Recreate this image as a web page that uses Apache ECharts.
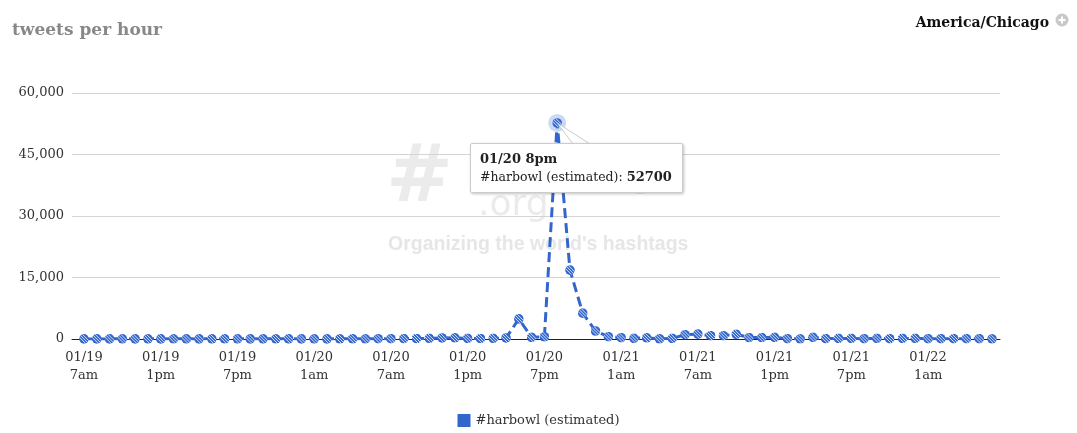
<!DOCTYPE html>
<html>
<head>
<meta charset="utf-8">
<script src="https://cdn.jsdelivr.net/npm/echarts@6/dist/echarts.min.js"></script>
<style>
html,body{margin:0;padding:0;background:#fff;}
#chart{width:1077px;height:433px;}
</style>
</head>
<body>
<div id="chart"></div>
<script>
// ---- data ----
var hourLabels = [
  "01/19 7am","01/19 8am","01/19 9am","01/19 10am","01/19 11am","01/19 12pm","01/19 1pm","01/19 2pm","01/19 3pm","01/19 4pm","01/19 5pm","01/19 6pm","01/19 7pm","01/19 8pm","01/19 9pm","01/19 10pm","01/19 11pm",
  "01/20 12am","01/20 1am","01/20 2am","01/20 3am","01/20 4am","01/20 5am","01/20 6am","01/20 7am","01/20 8am","01/20 9am","01/20 10am","01/20 11am","01/20 12pm","01/20 1pm","01/20 2pm","01/20 3pm","01/20 4pm","01/20 5pm","01/20 6pm","01/20 7pm","01/20 8pm","01/20 9pm","01/20 10pm","01/20 11pm",
  "01/21 12am","01/21 1am","01/21 2am","01/21 3am","01/21 4am","01/21 5am","01/21 6am","01/21 7am","01/21 8am","01/21 9am","01/21 10am","01/21 11am","01/21 12pm","01/21 1pm","01/21 2pm","01/21 3pm","01/21 4pm","01/21 5pm","01/21 6pm","01/21 7pm","01/21 8pm","01/21 9pm","01/21 10pm","01/21 11pm",
  "01/22 12am","01/22 1am","01/22 2am","01/22 3am","01/22 4am","01/22 5am","01/22 6am"
];
var harbowlValues = [
  30, 20, 30, 40, 30, 40, 30, 50, 40, 30, 40, 50, 40, 30, 40, 50, 40,
  30, 40, 30, 50, 60, 50, 70, 80, 100, 120, 150, 250, 300, 150, 120, 150, 250, 4900, 400, 550, 52700, 16800, 6300, 1950,
  560, 320, 160, 300, 60, 150, 1050, 1200, 800, 800, 1150, 350, 350, 400, 80, 50, 400, 100, 150, 150, 80, 150, 80, 150,
  150, 80, 80, 80, 80, 80, 50
];
var tickIndices = [0, 6, 12, 18, 24, 30, 36, 42, 48, 54, 60, 66];
var tickLabels = ["01/19\n7am","01/19\n1pm","01/19\n7pm","01/20\n1am","01/20\n7am","01/20\n1pm","01/20\n7pm","01/21\n1am","01/21\n7am","01/21\n1pm","01/21\n7pm","01/22\n1am"];
var seriesName = "#harbowl (estimated)";
var tooltipIndex = 37;

// ---- styling ----
var FONT = "'DejaVu Serif', serif";
var BLUE = "#3366cc";
var markerSvg = "<svg xmlns='http://www.w3.org/2000/svg' width='20' height='20' viewBox='0 0 20 20'>" +
  "<defs><clipPath id='c'><circle cx='10' cy='10' r='9.6'/></clipPath></defs>" +
  "<circle cx='10' cy='10' r='9.6' fill='" + BLUE + "'/>" +
  "<g clip-path='url(#c)' stroke='#ffffff' stroke-width='1.6'>" +
  "<line x1='-6' y1='0' x2='14' y2='20'/><line x1='0' y1='0' x2='20' y2='20'/><line x1='6' y1='0' x2='26' y2='20'/>" +
  "</g></svg>";
var markerUri = "image://data:image/svg+xml;charset=utf-8," + encodeURIComponent(markerSvg);

var seriesData = harbowlValues.map(function (v, i) { return [i, v]; });

var chart = echarts.init(document.getElementById('chart'), null, {renderer: 'canvas'});
var TIP_X = 470, TIP_Y = 143;
var option = {
  animation: false,
  backgroundColor: '#fff',
  textStyle: {fontFamily: FONT},
  title: [{
    text: 'tweets per hour',
    left: 7, top: 17,
    textStyle: {fontFamily: FONT, fontWeight: 'bold', fontSize: 17, color: '#888888'}
  }, {
    text: 'America/Chicago',
    right: 23, top: 11,
    textStyle: {fontFamily: FONT, fontWeight: 'bold', fontSize: 14, color: '#111'}
  }],
  graphic: [
    {type: 'circle', shape: {cx: 1062, cy: 20, r: 6.5}, style: {fill: '#c8c8c8'}, z: 10},
    {type: 'rect', shape: {x: 1058.5, y: 19, width: 7, height: 2}, style: {fill: '#fff'}, z: 11},
    {type: 'rect', shape: {x: 1061, y: 16.5, width: 2, height: 7}, style: {fill: '#fff'}, z: 11},
    {type: 'text', left: 386, top: 140, z: -10, silent: true,
      style: {text: '#', fontSize: 80, fontWeight: 'bold', fontFamily: "'DejaVu Sans', sans-serif", fill: '#ebebeb'}},
    {type: 'text', left: 478, top: 152, z: -10, silent: true,
      style: {text: 'hashtags', fontSize: 44, fontFamily: "'DejaVu Sans', sans-serif", fill: '#ebebeb'}},
    {type: 'text', left: 478, top: 188, z: -10, silent: true,
      style: {text: '.org', fontSize: 36, fontFamily: "'DejaVu Sans', sans-serif", fill: '#ebebeb'}},
    {type: 'text', left: 388, top: 235, z: -10, silent: true,
      style: {text: "Organizing the world's hashtags", fontSize: 19.5, fontWeight: 'bold', fontFamily: "'Liberation Sans', Arial, sans-serif", fill: '#e6e6e6'}}
  ],
  grid: {left: 72, right: 77, top: 93, bottom: 94, containLabel: false},
  tooltip: {
    trigger: 'item',
    triggerOn: 'none',
    alwaysShowContent: true,
    backgroundColor: '#fff',
    borderColor: '#cccccc',
    borderWidth: 1,
    padding: [6, 9],
    extraCssText: 'box-shadow: 1px 1px 3px rgba(0,0,0,0.25); border-radius: 2px; width: 193px;',
    textStyle: {fontFamily: FONT, fontSize: 12.5, color: '#333'},
    position: function () { return [TIP_X, TIP_Y]; },
    formatter: function (p) {
      return '<div style="font-family:' + FONT + ';font-size:12.5px;line-height:18px;color:#222">' +
        '<b style="font-size:13px">' + hourLabels[p.data[0]] + '</b><br/>' + p.seriesName + ': <b style="font-size:13px">' + p.data[1] + '</b></div>';
    }
  },
  legend: {
    data: [{name: seriesName, icon: 'rect'}],
    left: 'center', top: 409,
    itemWidth: 13, itemHeight: 13, itemGap: 7,
    textStyle: {fontFamily: FONT, fontSize: 13, color: '#333'}
  },
  xAxis: {
    type: 'value',
    min: -0.938,
    max: 71.626,
    axisLine: {show: true, onZero: false, lineStyle: {color: '#222', width: 1}},
    axisTick: {show: false},
    splitLine: {show: false},
    axisLabel: {
      customValues: tickIndices,
      formatter: function (v) { return tickLabels[tickIndices.indexOf(Math.round(v))] || ''; },
      fontFamily: FONT, fontSize: 13, color: '#333', lineHeight: 18, margin: 10
    }
  },
  yAxis: {
    type: 'value',
    min: 0, max: 60000, interval: 15000,
    axisLine: {show: false},
    axisTick: {show: false},
    splitLine: {lineStyle: {color: '#d4d4d4', width: 1}},
    axisLabel: {
      formatter: function (v) { return v.toLocaleString('en-US'); },
      fontFamily: FONT, fontSize: 13, color: '#333', margin: 8
    }
  },
  series: [{
    name: seriesName,
    type: 'line',
    data: seriesData,
    color: BLUE,
    symbol: markerUri,
    symbolSize: 10,
    showAllSymbol: true,
    lineStyle: {color: BLUE, width: 3, type: [10, 5]},
    itemStyle: {color: BLUE},
    emphasis: {scale: 1.3}
  }]
};
chart.setOption(option);

// tooltip callout from the hovered point to the tooltip box
var pt = chart.convertToPixel({seriesIndex: 0}, seriesData[tooltipIndex]);
chart.setOption({
  graphic: option.graphic.concat([
    {type: 'circle', shape: {cx: pt[0], cy: pt[1], r: 9}, style: {fill: 'rgba(51,102,204,0.25)'}, z: 1, silent: true},
    {type: 'polygon', shape: {points: [[pt[0], pt[1]], [TIP_X + 103, TIP_Y + 1], [TIP_X + 120, TIP_Y + 1]]},
      style: {fill: '#fff', stroke: '#cccccc', lineWidth: 1}, z: 50, silent: true}
  ])
});
chart.dispatchAction({type: 'showTip', seriesIndex: 0, dataIndex: tooltipIndex});
</script>
</body>
</html>
